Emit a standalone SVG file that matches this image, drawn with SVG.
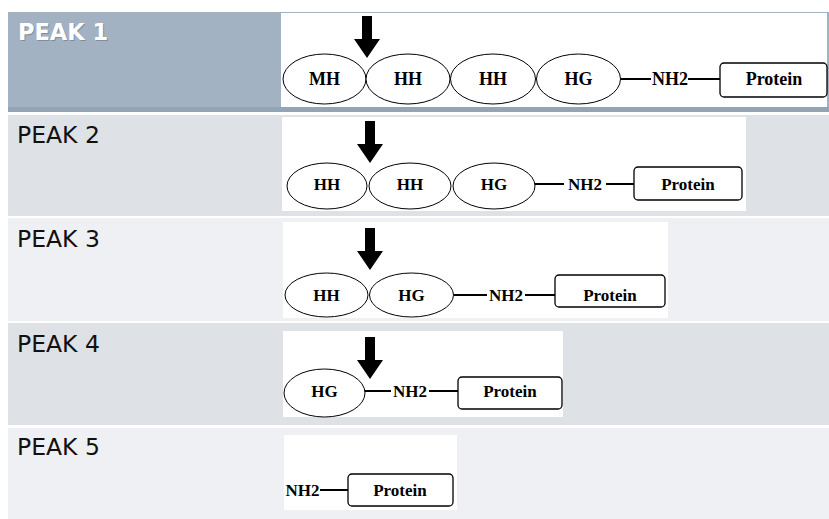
<svg xmlns="http://www.w3.org/2000/svg" xmlns:xlink="http://www.w3.org/1999/xlink" width="829" height="519" viewBox="0 0 829 519">
<defs>
<style>
.bg{fill:#ffffff}
.band1{fill:#a2b2c2}
.bandA{fill:#dee1e6}
.bandB{fill:#eef0f3}
.panel{fill:#ffffff}
.peak{font-family:"DejaVu Sans","Verdana",sans-serif;font-size:23.5px;fill:#111111}
.peak1{font-family:"DejaVu Sans","Verdana",sans-serif;font-size:22.5px;font-weight:bold;fill:#ffffff}
.peak1s{font-family:"DejaVu Sans","Verdana",sans-serif;font-size:22.5px;font-weight:bold;fill:#7f8e9e}
.ell{fill:#ffffff;stroke:#000000;stroke-width:1}
.box{fill:#ffffff;stroke:#000000;stroke-width:1.3}
.lbl{font-family:"Liberation Serif","Times New Roman",serif;font-size:17px;font-weight:bold;fill:#000000;text-anchor:middle}
.lbl1{font-size:18px}
.con{stroke:#000000;stroke-width:2;fill:none}
.arrow{fill:#000000}
</style>
<path id="cut" d="M-5,-42 H5 V-19 H13 L0,0 L-13,-19 H-5 Z"/>
</defs>
<rect class="bg" x="0" y="0" width="829" height="519"/>
<!-- row backgrounds -->
<rect class="band1" x="8" y="12" width="821" height="100"/>
<rect x="8" y="107" width="821" height="5" fill="#93a4b6"/>
<rect class="bandA" x="8" y="115" width="821" height="101"/>
<rect class="bandB" x="8" y="218" width="821" height="103"/>
<rect class="bandA" x="8" y="323" width="821" height="102"/>
<rect class="bandB" x="8" y="428" width="821" height="91"/>
<!-- white panels -->
<rect class="panel" x="281" y="13" width="546" height="94"/>
<rect class="panel" x="282" y="117" width="464" height="94"/>
<rect class="panel" x="283" y="222" width="385" height="96"/>
<rect class="panel" x="283" y="331" width="280" height="86"/>
<rect class="panel" x="284" y="435" width="173" height="75"/>
<!-- labels -->
<text class="peak1s" x="19" y="41">PEAK 1</text>
<text class="peak1" x="18" y="40">PEAK 1</text>
<text class="peak" x="17" y="143">PEAK 2</text>
<text class="peak" x="17" y="247">PEAK 3</text>
<text class="peak" x="17" y="352">PEAK 4</text>
<text class="peak" x="17" y="455">PEAK 5</text>
<!-- connectors -->
<g id="connectors">
<line class="con" x1="621" y1="79" x2="651" y2="79"/>
<line class="con" x1="688" y1="79" x2="720" y2="79"/>
<line class="con" x1="535" y1="184" x2="564" y2="184"/>
<line class="con" x1="606" y1="184" x2="634" y2="184"/>
<line class="con" x1="454" y1="295" x2="487" y2="295"/>
<line class="con" x1="525" y1="295" x2="555" y2="295"/>
<line class="con" x1="365" y1="391" x2="391" y2="391"/>
<line class="con" x1="429" y1="391" x2="458" y2="391"/>
<line class="con" x1="320" y1="490" x2="348" y2="490"/>
</g>
<!-- cleavage arrows -->
<g id="arrows">
<use href="#cut" xlink:href="#cut" class="arrow" x="367" y="58"/>
<use href="#cut" xlink:href="#cut" class="arrow" x="370" y="163"/>
<use href="#cut" xlink:href="#cut" class="arrow" x="370" y="270"/>
<use href="#cut" xlink:href="#cut" class="arrow" x="370" y="379"/>
</g>
<!-- PEAK 1 -->
<g id="p1-mh"><ellipse class="ell" cx="324.5" cy="79" rx="41.5" ry="25"/><text class="lbl lbl1" x="324.5" y="85">MH</text></g>
<g id="p1-hh1"><ellipse class="ell" cx="408" cy="79" rx="42" ry="25"/><text class="lbl lbl1" x="408" y="85">HH</text></g>
<g id="p1-hh2"><ellipse class="ell" cx="493" cy="79" rx="42.5" ry="25"/><text class="lbl lbl1" x="493" y="85">HH</text></g>
<g id="p1-hg"><ellipse class="ell" cx="578.5" cy="79" rx="42" ry="25"/><text class="lbl lbl1" x="578.5" y="85">HG</text></g>
<g id="p1-nh2"><text class="lbl lbl1" x="670" y="85">NH2</text></g>
<g id="p1-protein"><rect class="box" x="720" y="63" width="107" height="34" rx="4"/><text class="lbl lbl1" x="774" y="85">Protein</text></g>
<!-- PEAK 2 -->
<g id="p2-hh1"><ellipse class="ell" cx="327" cy="186" rx="40" ry="23"/><text class="lbl" x="327" y="190">HH</text></g>
<g id="p2-hh2"><ellipse class="ell" cx="410" cy="186" rx="41" ry="23"/><text class="lbl" x="410" y="190">HH</text></g>
<g id="p2-hg"><ellipse class="ell" cx="494" cy="186" rx="41" ry="23"/><text class="lbl" x="494" y="190">HG</text></g>
<g id="p2-nh2"><text class="lbl" x="585" y="190">NH2</text></g>
<g id="p2-protein"><rect class="box" x="634" y="167" width="108" height="33" rx="4"/><text class="lbl" x="688" y="190">Protein</text></g>
<!-- PEAK 3 -->
<g id="p3-hh"><ellipse class="ell" cx="326.5" cy="295" rx="41.5" ry="22"/><text class="lbl" x="326.5" y="301">HH</text></g>
<g id="p3-hg"><ellipse class="ell" cx="411.5" cy="295" rx="42" ry="22"/><text class="lbl" x="411.5" y="301">HG</text></g>
<g id="p3-nh2"><text class="lbl" x="506" y="301">NH2</text></g>
<g id="p3-protein"><rect class="box" x="555" y="275" width="110" height="32" rx="4"/><text class="lbl" x="610" y="301">Protein</text></g>
<!-- PEAK 4 -->
<g id="p4-hg"><ellipse class="ell" cx="324.5" cy="393" rx="40.5" ry="24"/><text class="lbl" x="324.5" y="397">HG</text></g>
<g id="p4-nh2"><text class="lbl" x="410" y="397">NH2</text></g>
<g id="p4-protein"><rect class="box" x="458" y="377" width="104" height="32" rx="4"/><text class="lbl" x="510" y="397">Protein</text></g>
<!-- PEAK 5 -->
<g id="p5-nh2"><text class="lbl" x="302.5" y="496">NH2</text></g>
<g id="p5-protein"><rect class="box" x="348" y="474" width="105" height="32" rx="4"/><text class="lbl" x="400" y="496">Protein</text></g>
</svg>
